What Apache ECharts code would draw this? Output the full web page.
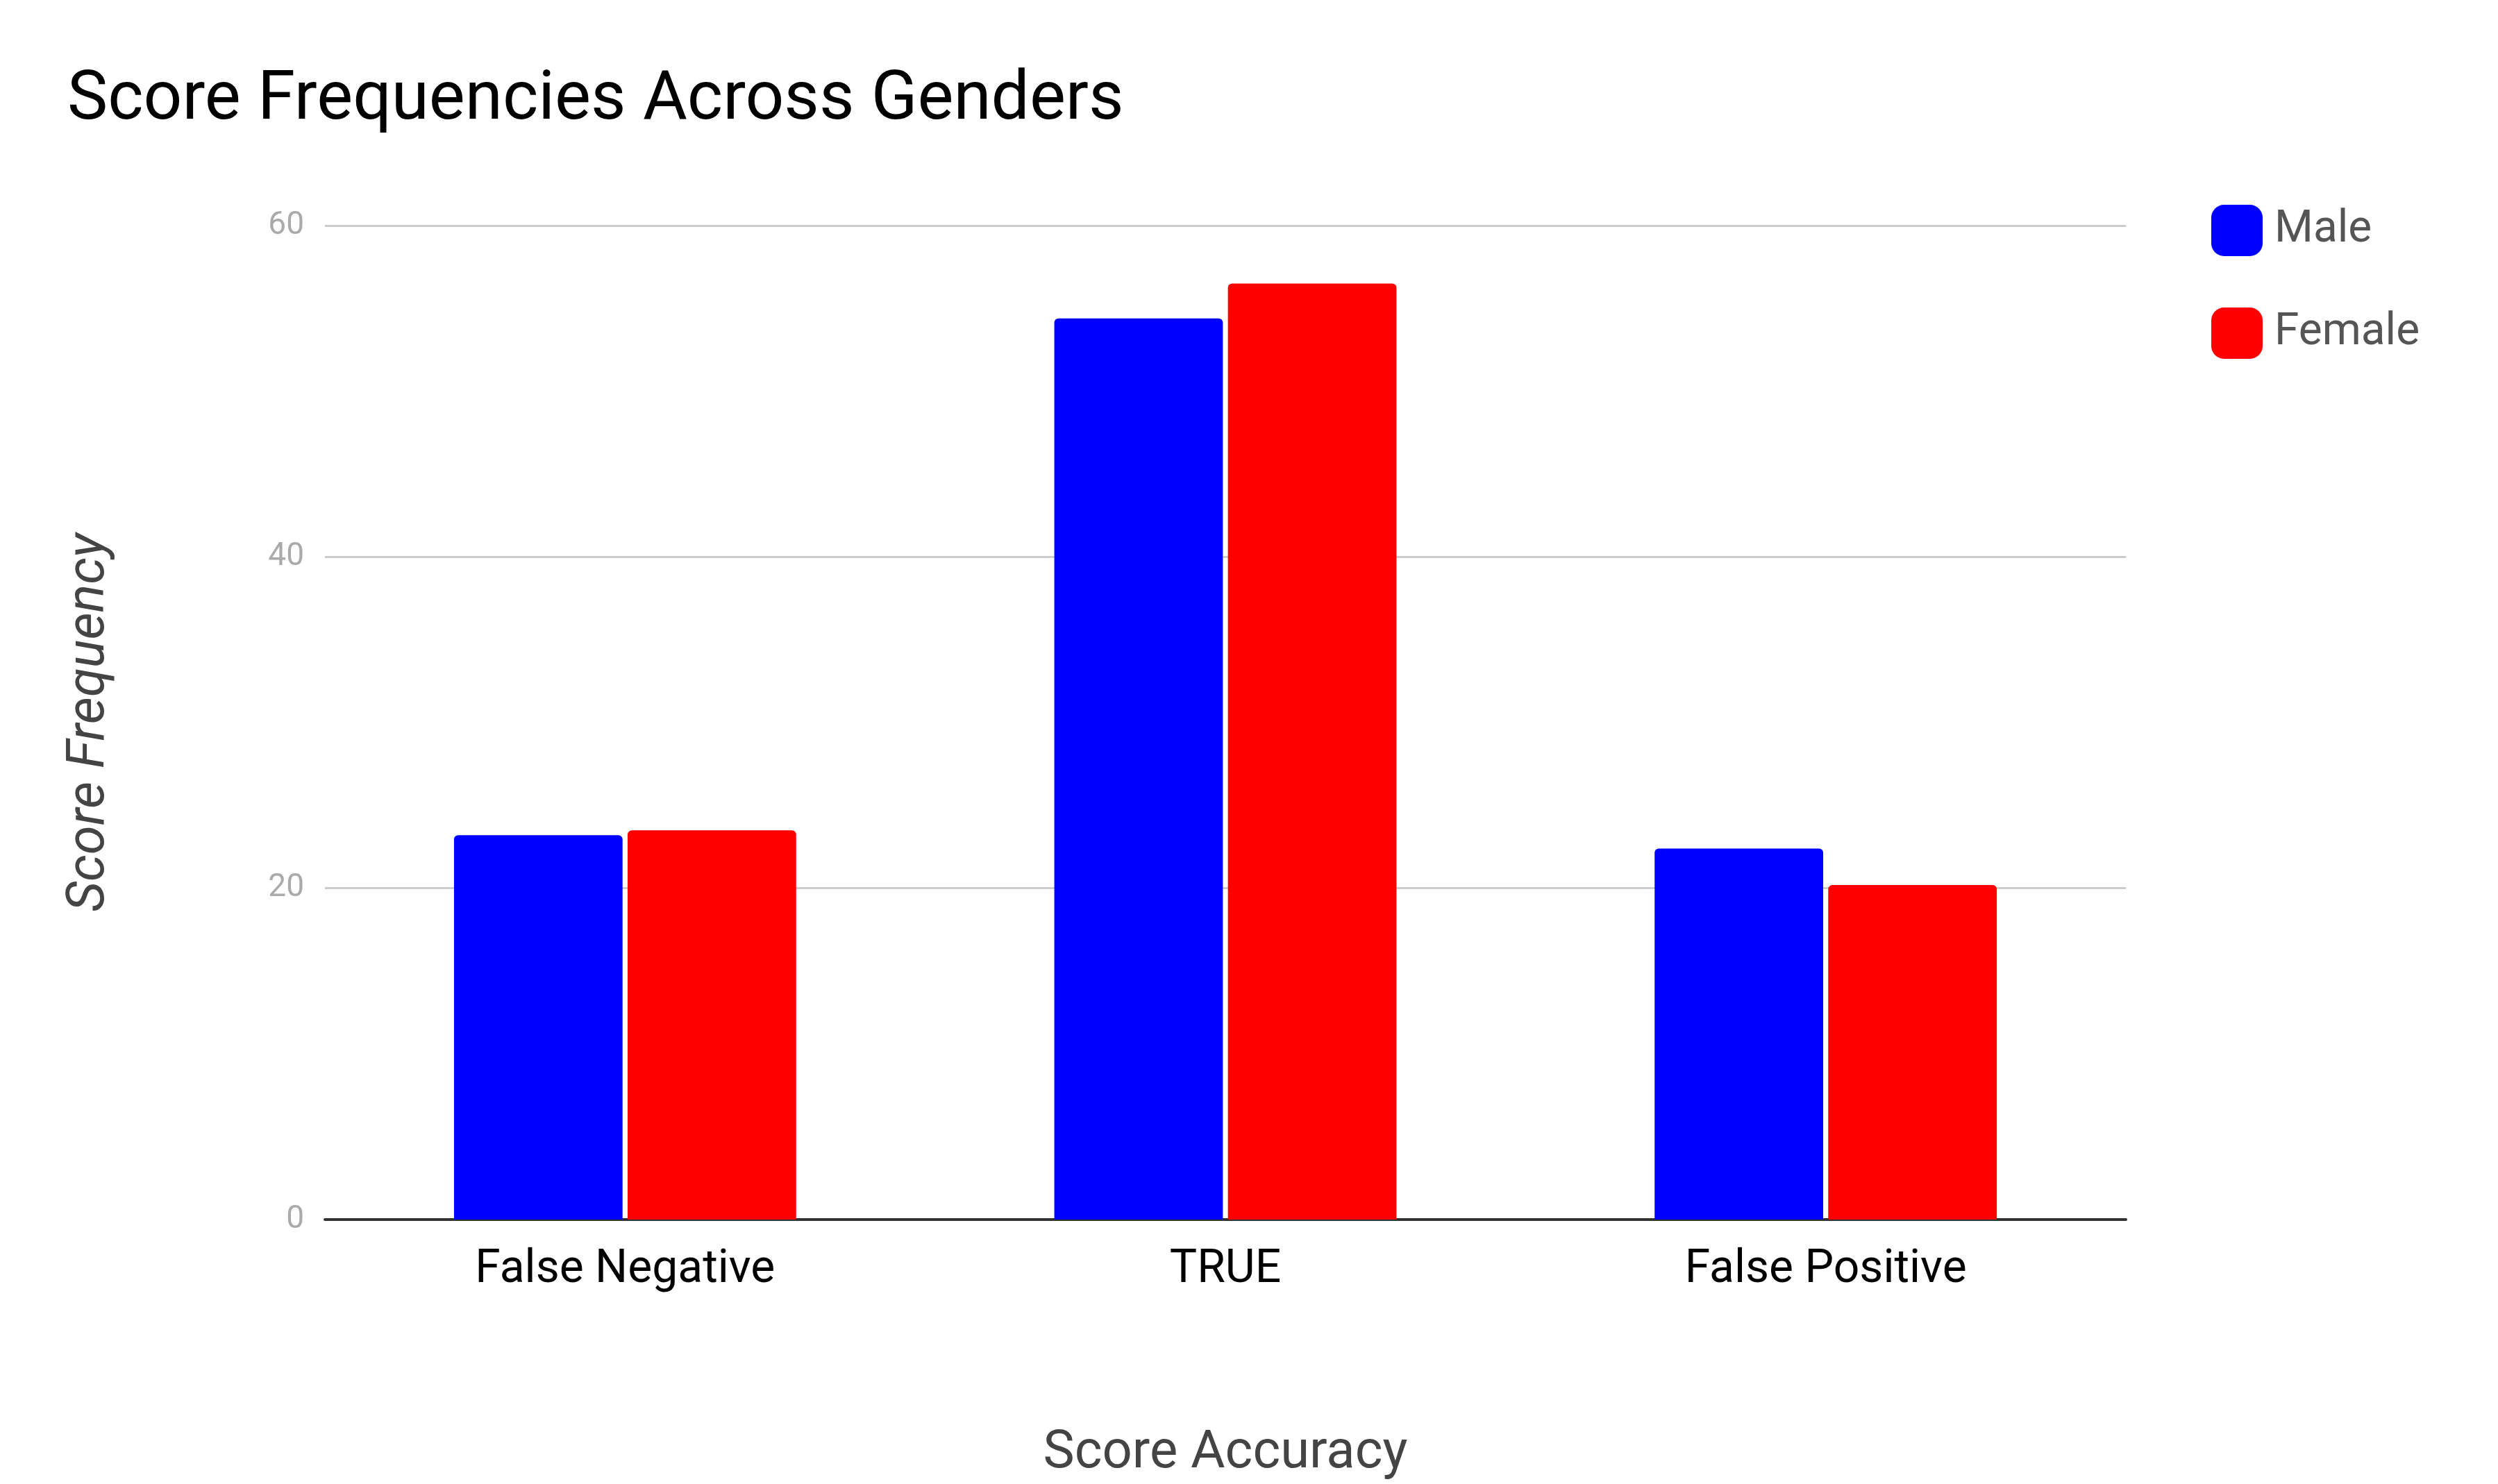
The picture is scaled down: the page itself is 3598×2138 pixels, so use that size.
<!DOCTYPE html>
<html>
<head>
<meta charset="utf-8">
<script src="https://cdn.jsdelivr.net/npm/echarts@6/dist/echarts.min.js"></script>
<style>
  html, body { margin: 0; padding: 0; background: #fff; }
  #chart { width: 3598px; height: 2138px; }
</style>
</head>
<body>
<div id="chart"></div>
<script>
// Chart data
var categories = ['False Negative', 'TRUE', 'False Positive'];
var maleValues = [23.2, 54.4, 22.4];
var femaleValues = [23.5, 56.5, 20.2];
var yTicks = [0, 20, 40, 60];

var chart = echarts.init(document.getElementById('chart'), null, { renderer: 'canvas' });

chart.setOption({
    animation: false,
    textStyle: { fontFamily: 'Roboto' },
    title: {
        text: 'Score Frequencies Across Genders',
        left: 92, top: 92,
        textStyle: { fontSize: 98, fontWeight: 'normal', color: '#000', fontFamily: 'Roboto' }
    },
    legend: {
        orient: 'vertical',
        left: 3180, top: 290,
        itemWidth: 74, itemHeight: 74, itemGap: 74,
        icon: 'roundRect',
        textStyle: { fontSize: 64, color: '#555', padding: [0, 0, 0, 12] },
        data: ['Male', 'Female']
    },
    grid: { left: 468, right: 536, top: 325, bottom: 381 },
    xAxis: {
        type: 'category',
        data: categories,
        name: 'Score Accuracy',
        nameLocation: 'middle',
        nameGap: 300,
        nameTextStyle: { fontSize: 76, color: '#444' },
        axisTick: { show: false },
        axisLine: { lineStyle: { color: '#333', width: 4 } },
        axisLabel: { fontSize: 66, color: '#000', margin: 40 }
    },
    yAxis: {
        type: 'value',
        min: yTicks[0], max: yTicks[yTicks.length - 1], interval: 20,
        name: 'Score Frequency',
        nameLocation: 'middle',
        nameGap: 300,
        nameTextStyle: { fontSize: 76, color: '#444', fontStyle: 'italic' },
        axisLabel: { fontSize: 46, color: '#aaa', margin: 30 },
        splitLine: { lineStyle: { color: '#ccc', width: 3 } },
        axisLine: { show: false },
        axisTick: { show: false }
    },
    series: [
        {
            name: 'Male', type: 'bar', data: maleValues,
            barGap: '3%', barCategoryGap: '43%',
            itemStyle: { color: '#0000ff', borderRadius: [6, 6, 0, 0] }
        },
        {
            name: 'Female', type: 'bar', data: femaleValues,
            itemStyle: { color: '#ff0000', borderRadius: [6, 6, 0, 0] }
        }
    ]
});
</script>
</body>
</html>
